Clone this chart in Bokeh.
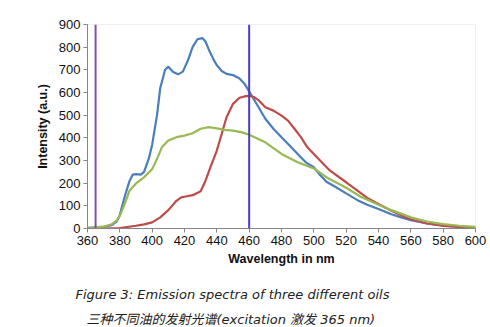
from bokeh.plotting import figure
from bokeh.models import Range1d, Span, Title, FixedTicker
from bokeh.embed import file_html
from bokeh.resources import INLINE

# Blue oil
blue_x = [360, 365, 370, 375, 378, 380, 383, 386, 388, 390, 393, 395, 398, 400, 403, 405, 408, 410,
          413, 416, 419, 422, 425, 428, 431, 433, 435, 438, 440, 443, 446, 450, 454, 457, 460, 465,
          470, 475, 480, 485, 490, 495, 500, 504, 508, 514, 520, 527, 533, 540, 548, 554, 560, 570,
          580, 590, 600]
blue_y = [3, 5, 7, 15, 30, 60, 140, 210, 238, 240, 238, 250, 310, 370, 500, 620, 700, 714,
          690, 680, 692, 740, 800, 835, 840, 825, 790, 745, 720, 695, 682, 677, 662, 640, 605, 545,
          484, 440, 403, 366, 329, 292, 270, 235, 205, 181, 155, 125, 105, 86, 63, 49, 37, 22,
          13, 8, 4]

# Red oil
red_x = [360, 370, 380, 390, 395, 400, 405, 410, 415, 418, 420, 425, 430, 433, 436, 440, 443, 446,
         450, 454, 458, 460, 463, 466, 470, 475, 480, 484, 488, 492, 496, 500, 504, 510, 520, 527,
         533, 540, 548, 554, 560, 570, 580, 590, 600]
red_y = [0, 0, 2, 12, 18, 27, 49, 81, 122, 137, 140, 147, 164, 211, 270, 344, 417, 491,
         550, 577, 584, 585, 580, 565, 535, 520, 498, 476, 440, 403, 358, 329, 299, 255, 204, 167,
         135, 108, 78, 58, 41, 22, 12, 7, 4]

# Green oil
green_x = [360, 365, 370, 375, 378, 380, 383, 386, 390, 395, 400, 403, 406, 410, 415, 420, 425, 430,
           435, 440, 445, 450, 455, 460, 470, 480, 490, 500, 504, 508, 520, 529, 540, 548, 560, 570,
           580, 590, 600]
green_y = [0, 5, 8, 19, 35, 56, 108, 167, 199, 226, 262, 307, 358, 388, 403, 410, 420, 440,
           447, 442, 435, 432, 425, 414, 380, 329, 292, 265, 245, 225, 180, 140, 105, 81, 49, 31,
           19, 12, 7]

excitation_nm = 365
marker_nm = 460

x_ticks = list(range(360, 601, 20))
y_ticks = list(range(0, 901, 100))

caption_1 = "Figure 3: Emission spectra of three different oils"
caption_2 = "三种不同油的发射光谱(excitation 激发 365 nm)"

p = figure(width=490, height=327, output_backend="svg", toolbar_location=None,
           x_range=Range1d(360, 600), y_range=Range1d(0, 900),
           min_border_left=87, min_border_right=15, min_border_top=24, min_border_bottom=99)

p.background_fill_color = "white"
p.border_fill_color = "white"
p.outline_line_color = "#f0f0f0"
p.xgrid.visible = False
p.ygrid.visible = False

p.line(blue_x, blue_y, line_color="#4a7ebb", line_width=2.2)
p.line(red_x, red_y, line_color="#be4b48", line_width=2.2)
p.line(green_x, green_y, line_color="#98b954", line_width=2.2)

p.add_layout(Span(location=excitation_nm, dimension="height", line_color="#8050b0", line_width=2))
p.add_layout(Span(location=marker_nm, dimension="height", line_color="#4b3cc8", line_width=2))

for ax in (p.xaxis[0], p.yaxis[0]):
    ax.axis_line_color = "#868686"
    ax.major_tick_line_color = "#868686"
    ax.major_tick_out = 4
    ax.major_tick_in = 0
    ax.minor_tick_line_color = None
    ax.major_label_text_font = "Liberation Sans"
    ax.major_label_text_font_size = "13px"
    ax.major_label_text_color = "#111111"
    ax.axis_label_text_font = "Liberation Sans"
    ax.axis_label_text_font_size = "12.5px"
    ax.axis_label_text_font_style = "bold"
    ax.axis_label_text_color = "#111111"

p.xaxis.ticker = FixedTicker(ticks=x_ticks)
p.yaxis.ticker = FixedTicker(ticks=y_ticks)
p.xaxis.axis_label = "Wavelength in nm"
p.yaxis.axis_label = "Intensity (a.u.)"
p.xaxis.major_label_standoff = 3
p.xaxis.axis_label_standoff = 4
p.yaxis.major_label_standoff = 3
p.yaxis.axis_label_standoff = 6

cap_font = "DejaVu Sans, Noto Sans CJK SC"
t1 = Title(text=caption_1, align="left", offset=-12, standoff=33,
           text_font=cap_font, text_font_style="italic", text_font_size="13px",
           text_color="#222222")
t2 = Title(text=caption_2, align="left", offset=-1, standoff=-17,
           text_font=cap_font, text_font_style="italic", text_font_size="13px",
           text_color="#222222")
p.add_layout(t1, "below")
p.add_layout(t2, "below")

open("out.html", "w").write(file_html(p, INLINE))
